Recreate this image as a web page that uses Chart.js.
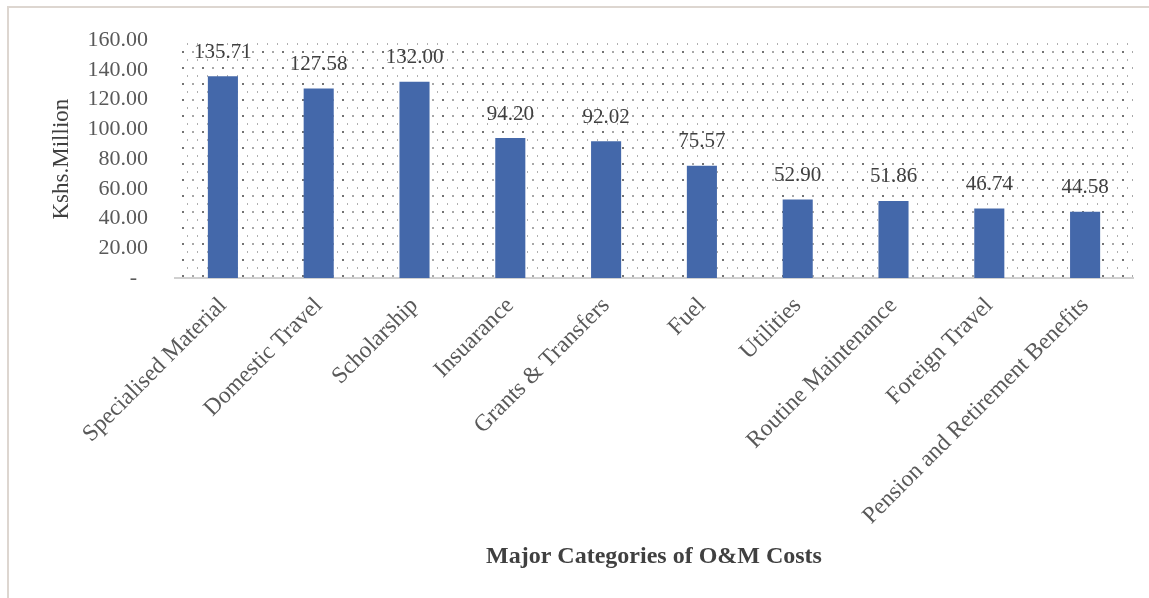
<!DOCTYPE html>
<html>
<head>
<meta charset="utf-8">
<title>Major Categories of O&amp;M Costs</title>
<script src="https://cdn.jsdelivr.net/npm/chart.js@4.4.1/dist/chart.umd.min.js"></script>
<style>
  html, body { margin: 0; padding: 0; background: #ffffff; }
  #wrap { position: relative; width: 1149px; height: 598px; }
</style>
</head>
<body>
<div id="wrap"><canvas id="chart"></canvas></div>
<script>
// O&M cost categories and spending (Kshs. Million)
const categories = [
  'Specialised Material',
  'Domestic Travel',
  'Scholarship',
  'Insuarance',
  'Grants & Transfers',
  'Fuel',
  'Utilities',
  'Routine Maintenance',
  'Foreign Travel',
  'Pension and Retirement Benefits'
];
const costs = [135.71, 127.58, 132.00, 94.20, 92.02, 75.57, 52.90, 51.86, 46.74, 44.58];

// y-axis tick values and their printed labels
const yTickValues = [0, 20, 40, 60, 80, 100, 120, 140, 160];
const yTickLabels = ['-  ', '20.00', '40.00', '60.00', '80.00', '100.00', '120.00', '140.00', '160.00'];

const SERIF = "'Liberation Serif', 'Times New Roman', serif";

// dotted fill for the plotting area
function makeDotPattern(ctx) {
  const tile = document.createElement('canvas');
  tile.width = 20; tile.height = 16;
  const t = tile.getContext('2d');
  t.fillStyle = '#ffffff';
  t.fillRect(0, 0, 20, 16);
  t.fillStyle = 'rgba(80,80,80,0.8)';
  t.fillRect(2, 3, 2, 2);
  t.fillStyle = 'rgba(110,110,110,0.6)';
  t.fillRect(12, 3, 2, 2);
  t.fillStyle = 'rgba(110,110,110,0.55)';
  t.fillRect(7, 11, 1, 2);
  t.fillRect(17, 11, 1, 2);
  return ctx.createPattern(tile, 'repeat');
}

const frameAndBackground = {
  id: 'frameAndBackground',
  beforeDraw(chart) {
    const { ctx, chartArea: a } = chart;
    ctx.save();
    // outer frame
    ctx.strokeStyle = '#ddd6d0';
    ctx.lineWidth = 2;
    ctx.strokeRect(8, 7, 1160, 620);
    // dotted plot area
    ctx.fillStyle = makeDotPattern(ctx);
    ctx.fillRect(a.left + 3, a.top - 3, a.right - a.left - 3, a.bottom - a.top + 3);
    ctx.restore();
  }
};

const valueLabels = {
  id: 'valueLabels',
  afterDatasetsDraw(chart) {
    const { ctx } = chart;
    const meta = chart.getDatasetMeta(0);
    ctx.save();
    ctx.font = '21px ' + SERIF;
    ctx.fillStyle = '#404040';
    ctx.textAlign = 'center';
    ctx.textBaseline = 'middle';
    meta.data.forEach((bar, i) => {
      ctx.fillText(costs[i].toFixed(2), bar.x, bar.y - 24);
    });
    ctx.restore();
  }
};

new Chart(document.getElementById('chart'), {
  type: 'bar',
  data: {
    labels: categories,
    datasets: [{
      data: costs,
      backgroundColor: '#4468aa',
      borderWidth: 0,
      barPercentage: 0.314,
      categoryPercentage: 1
    }]
  },
  options: {
    responsive: true,
    maintainAspectRatio: false,
    animation: false,
    events: [],
    layout: { padding: { top: 38, right: 16, bottom: 0, left: 0 } },
    plugins: {
      legend: { display: false },
      tooltip: { enabled: false }
    },
    scales: {
      x: {
        grid: { display: false, drawTicks: false },
        border: { display: true, color: '#d0d0d0', width: 2 },
        ticks: {
          color: '#595959',
          font: { family: SERIF, size: 23.5 },
          minRotation: 45,
          maxRotation: 45,
          padding: 14,
          autoSkip: false
        },
        title: {
          display: true,
          text: 'Major Categories of O&M Costs',
          color: '#404040',
          font: { family: SERIF, size: 24, weight: 'bold' },
          padding: { top: 0, bottom: 27 }
        },
        afterFit(scale) { scale.height = 320; }
      },
      y: {
        min: 0,
        max: 160,
        grid: { display: false, drawTicks: false },
        border: { display: false },
        afterBuildTicks(scale) {
          scale.ticks = yTickValues.map(v => ({ value: v }));
        },
        ticks: {
          color: '#595959',
          font: { family: SERIF, size: 22 },
          padding: 27,
          callback(value) {
            const i = yTickValues.indexOf(value);
            return i >= 0 ? yTickLabels[i] : '';
          }
        },
        title: {
          display: true,
          text: 'Kshs.Million',
          color: '#404040',
          font: { family: SERIF, size: 23 },
          padding: { top: 48, bottom: 0 }
        },
        afterFit(scale) { scale.width = 175; }
      }
    }
  },
  plugins: [frameAndBackground, valueLabels]
});
</script>
</body>
</html>
